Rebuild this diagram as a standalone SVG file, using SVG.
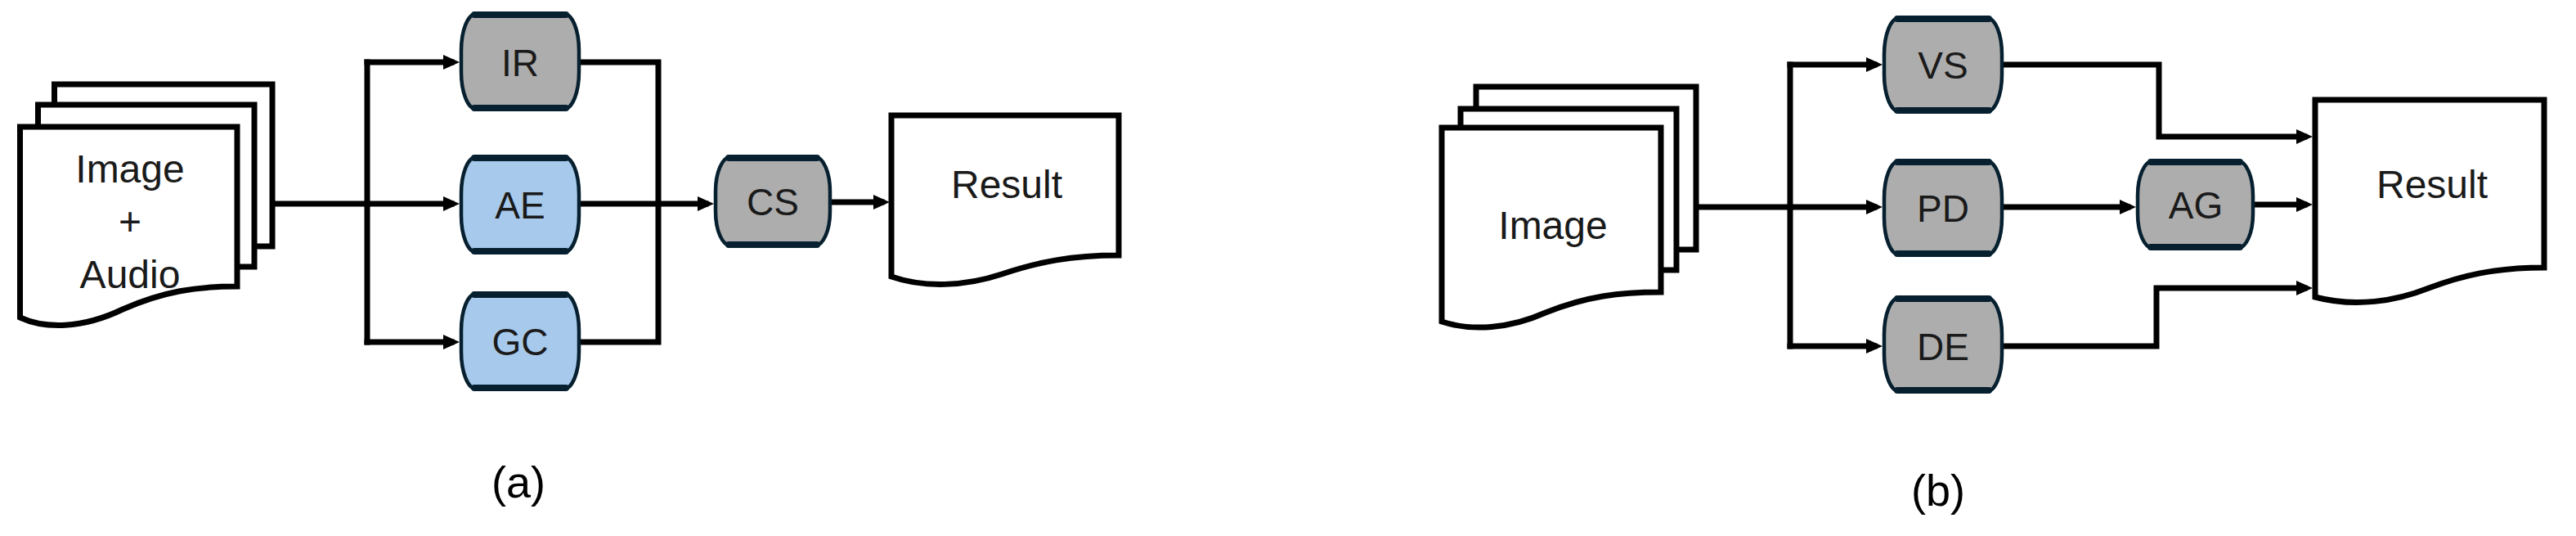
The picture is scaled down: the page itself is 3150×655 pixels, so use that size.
<svg xmlns="http://www.w3.org/2000/svg" width="3150" height="655" viewBox="0 0 3150 655">
<style>
.doc{fill:#fff;stroke:#000;stroke-width:7;stroke-linejoin:miter}
.con{fill:none;stroke:#000;stroke-width:7;stroke-linecap:square;stroke-linejoin:miter}
.box{stroke:#07202f;stroke-width:4.5}
.edge{stroke:#07202f;stroke-width:8;stroke-linecap:round}
.gray{fill:#adadad}
.blue{fill:#a7c9eb}
.t{font-family:"Liberation Sans",Arial,sans-serif;font-size:46px;fill:#1a1a1a;text-anchor:middle}
.dt{font-family:"Liberation Sans",Arial,sans-serif;font-size:48px;fill:#1a1a1a;text-anchor:middle}
.cap{font-family:"Liberation Sans",Arial,sans-serif;font-size:54px;fill:#000;text-anchor:middle}
</style>
<defs>
<marker id="ah" markerUnits="userSpaceOnUse" markerWidth="20" markerHeight="18" refX="10" refY="9" orient="auto">
<path d="M0,0 L20,9 L0,18 Z" fill="#000"/>
</marker>
</defs>
<rect width="3150" height="655" fill="#fff"/>

<g id="connectors">
<!-- (a) -->
<path class="con" d="M337,249 H449"/>
<path class="con" d="M449,76 V418"/>
<path class="con" d="M449,76 H552" marker-end="url(#ah)"/>
<path class="con" d="M449,249 H552" marker-end="url(#ah)"/>
<path class="con" d="M449,418 H552" marker-end="url(#ah)"/>
<path class="con" d="M710,76 H805 V418 H710"/>
<path class="con" d="M710,249 H863" marker-end="url(#ah)"/>
<path class="con" d="M1017,247 H1078" marker-end="url(#ah)"/>
<!-- (b) -->
<path class="con" d="M2074,253 H2189"/>
<path class="con" d="M2189,79 V423"/>
<path class="con" d="M2189,79 H2292" marker-end="url(#ah)"/>
<path class="con" d="M2189,253 H2292" marker-end="url(#ah)"/>
<path class="con" d="M2189,423 H2292" marker-end="url(#ah)"/>
<path class="con" d="M2450,79 H2640 V167 H2818" marker-end="url(#ah)"/>
<path class="con" d="M2450,253 H2602" marker-end="url(#ah)"/>
<path class="con" d="M2757,250 H2818" marker-end="url(#ah)"/>
<path class="con" d="M2450,423 H2637 V352 H2818" marker-end="url(#ah)"/>
</g>

<g id="input-a">
<rect class="doc" x="66.5" y="103" width="266.5" height="198"/>
<rect class="doc" x="46.5" y="128" width="264.5" height="198"/>
<path class="doc" d="M24.5,155 H290 V350 C240,350 200,356 150,378 C100,402 55,402 24.5,388 Z"/>
<text class="dt" x="159" y="223">Image</text>
<text class="dt" x="159" y="287">+</text>
<text class="dt" x="159" y="352">Audio</text>
</g>

<g id="IR">
<rect class="box gray" x="564" y="17" width="144" height="116" rx="18" ry="45"/>
<line class="edge" x1="580" y1="18" x2="692" y2="18"/><line class="edge" x1="580" y1="132" x2="692" y2="132"/>
<text class="t" x="636" y="93">IR</text>
</g>
<g id="AE">
<rect class="box blue" x="564" y="192" width="144" height="116" rx="18" ry="45"/>
<line class="edge" x1="580" y1="193" x2="692" y2="193"/><line class="edge" x1="580" y1="307" x2="692" y2="307"/>
<text class="t" x="636" y="267">AE</text>
</g>
<g id="GC">
<rect class="box blue" x="564" y="359" width="144" height="116" rx="18" ry="45"/>
<line class="edge" x1="580" y1="360" x2="692" y2="360"/><line class="edge" x1="580" y1="474" x2="692" y2="474"/>
<text class="t" x="636" y="434">GC</text>
</g>
<g id="CS">
<rect class="box gray" x="875" y="192" width="140" height="108" rx="18" ry="42"/>
<line class="edge" x1="891" y1="193" x2="999" y2="193"/><line class="edge" x1="891" y1="299" x2="999" y2="299"/>
<text class="t" x="945" y="263">CS</text>
</g>
<g id="result-a">
<path class="doc" d="M1090,141 H1368 V312 C1310,312 1270,320 1225,335 C1180,350 1130,352 1090,338 Z"/>
<text class="dt" x="1231" y="242">Result</text>
</g>
<text class="cap" x="634" y="608">(a)</text>

<g id="input-b">
<rect class="doc" x="1805" y="106" width="269" height="199"/>
<rect class="doc" x="1786" y="133" width="264" height="197"/>
<path class="doc" d="M1763,156 H2031 V357 C1980,357 1940,362 1890,382 C1845,402 1800,405 1763,393 Z"/>
<text class="dt" x="1899" y="292">Image</text>
</g>
<g id="VS">
<rect class="box gray" x="2304" y="22" width="144" height="114" rx="18" ry="45"/>
<line class="edge" x1="2320" y1="23" x2="2432" y2="23"/><line class="edge" x1="2320" y1="135" x2="2432" y2="135"/>
<text class="t" x="2376" y="96">VS</text>
</g>
<g id="PD">
<rect class="box gray" x="2304" y="197" width="144" height="114" rx="18" ry="45"/>
<line class="edge" x1="2320" y1="198" x2="2432" y2="198"/><line class="edge" x1="2320" y1="310" x2="2432" y2="310"/>
<text class="t" x="2376" y="271">PD</text>
</g>
<g id="DE">
<rect class="box gray" x="2304" y="364" width="144" height="114" rx="18" ry="45"/>
<line class="edge" x1="2320" y1="365" x2="2432" y2="365"/><line class="edge" x1="2320" y1="477" x2="2432" y2="477"/>
<text class="t" x="2376" y="440">DE</text>
</g>
<g id="AG">
<rect class="box gray" x="2614" y="197" width="141" height="106" rx="18" ry="42"/>
<line class="edge" x1="2630" y1="198" x2="2739" y2="198"/><line class="edge" x1="2630" y1="302" x2="2739" y2="302"/>
<text class="t" x="2685" y="267">AG</text>
</g>
<g id="result-b">
<path class="doc" d="M2831,122 H3111 V327 C3050,327 3010,337 2970,352 C2930,368 2880,376 2831,363 Z"/>
<text class="dt" x="2974" y="242">Result</text>
</g>
<text class="cap" x="2370" y="618">(b)</text>
</svg>
